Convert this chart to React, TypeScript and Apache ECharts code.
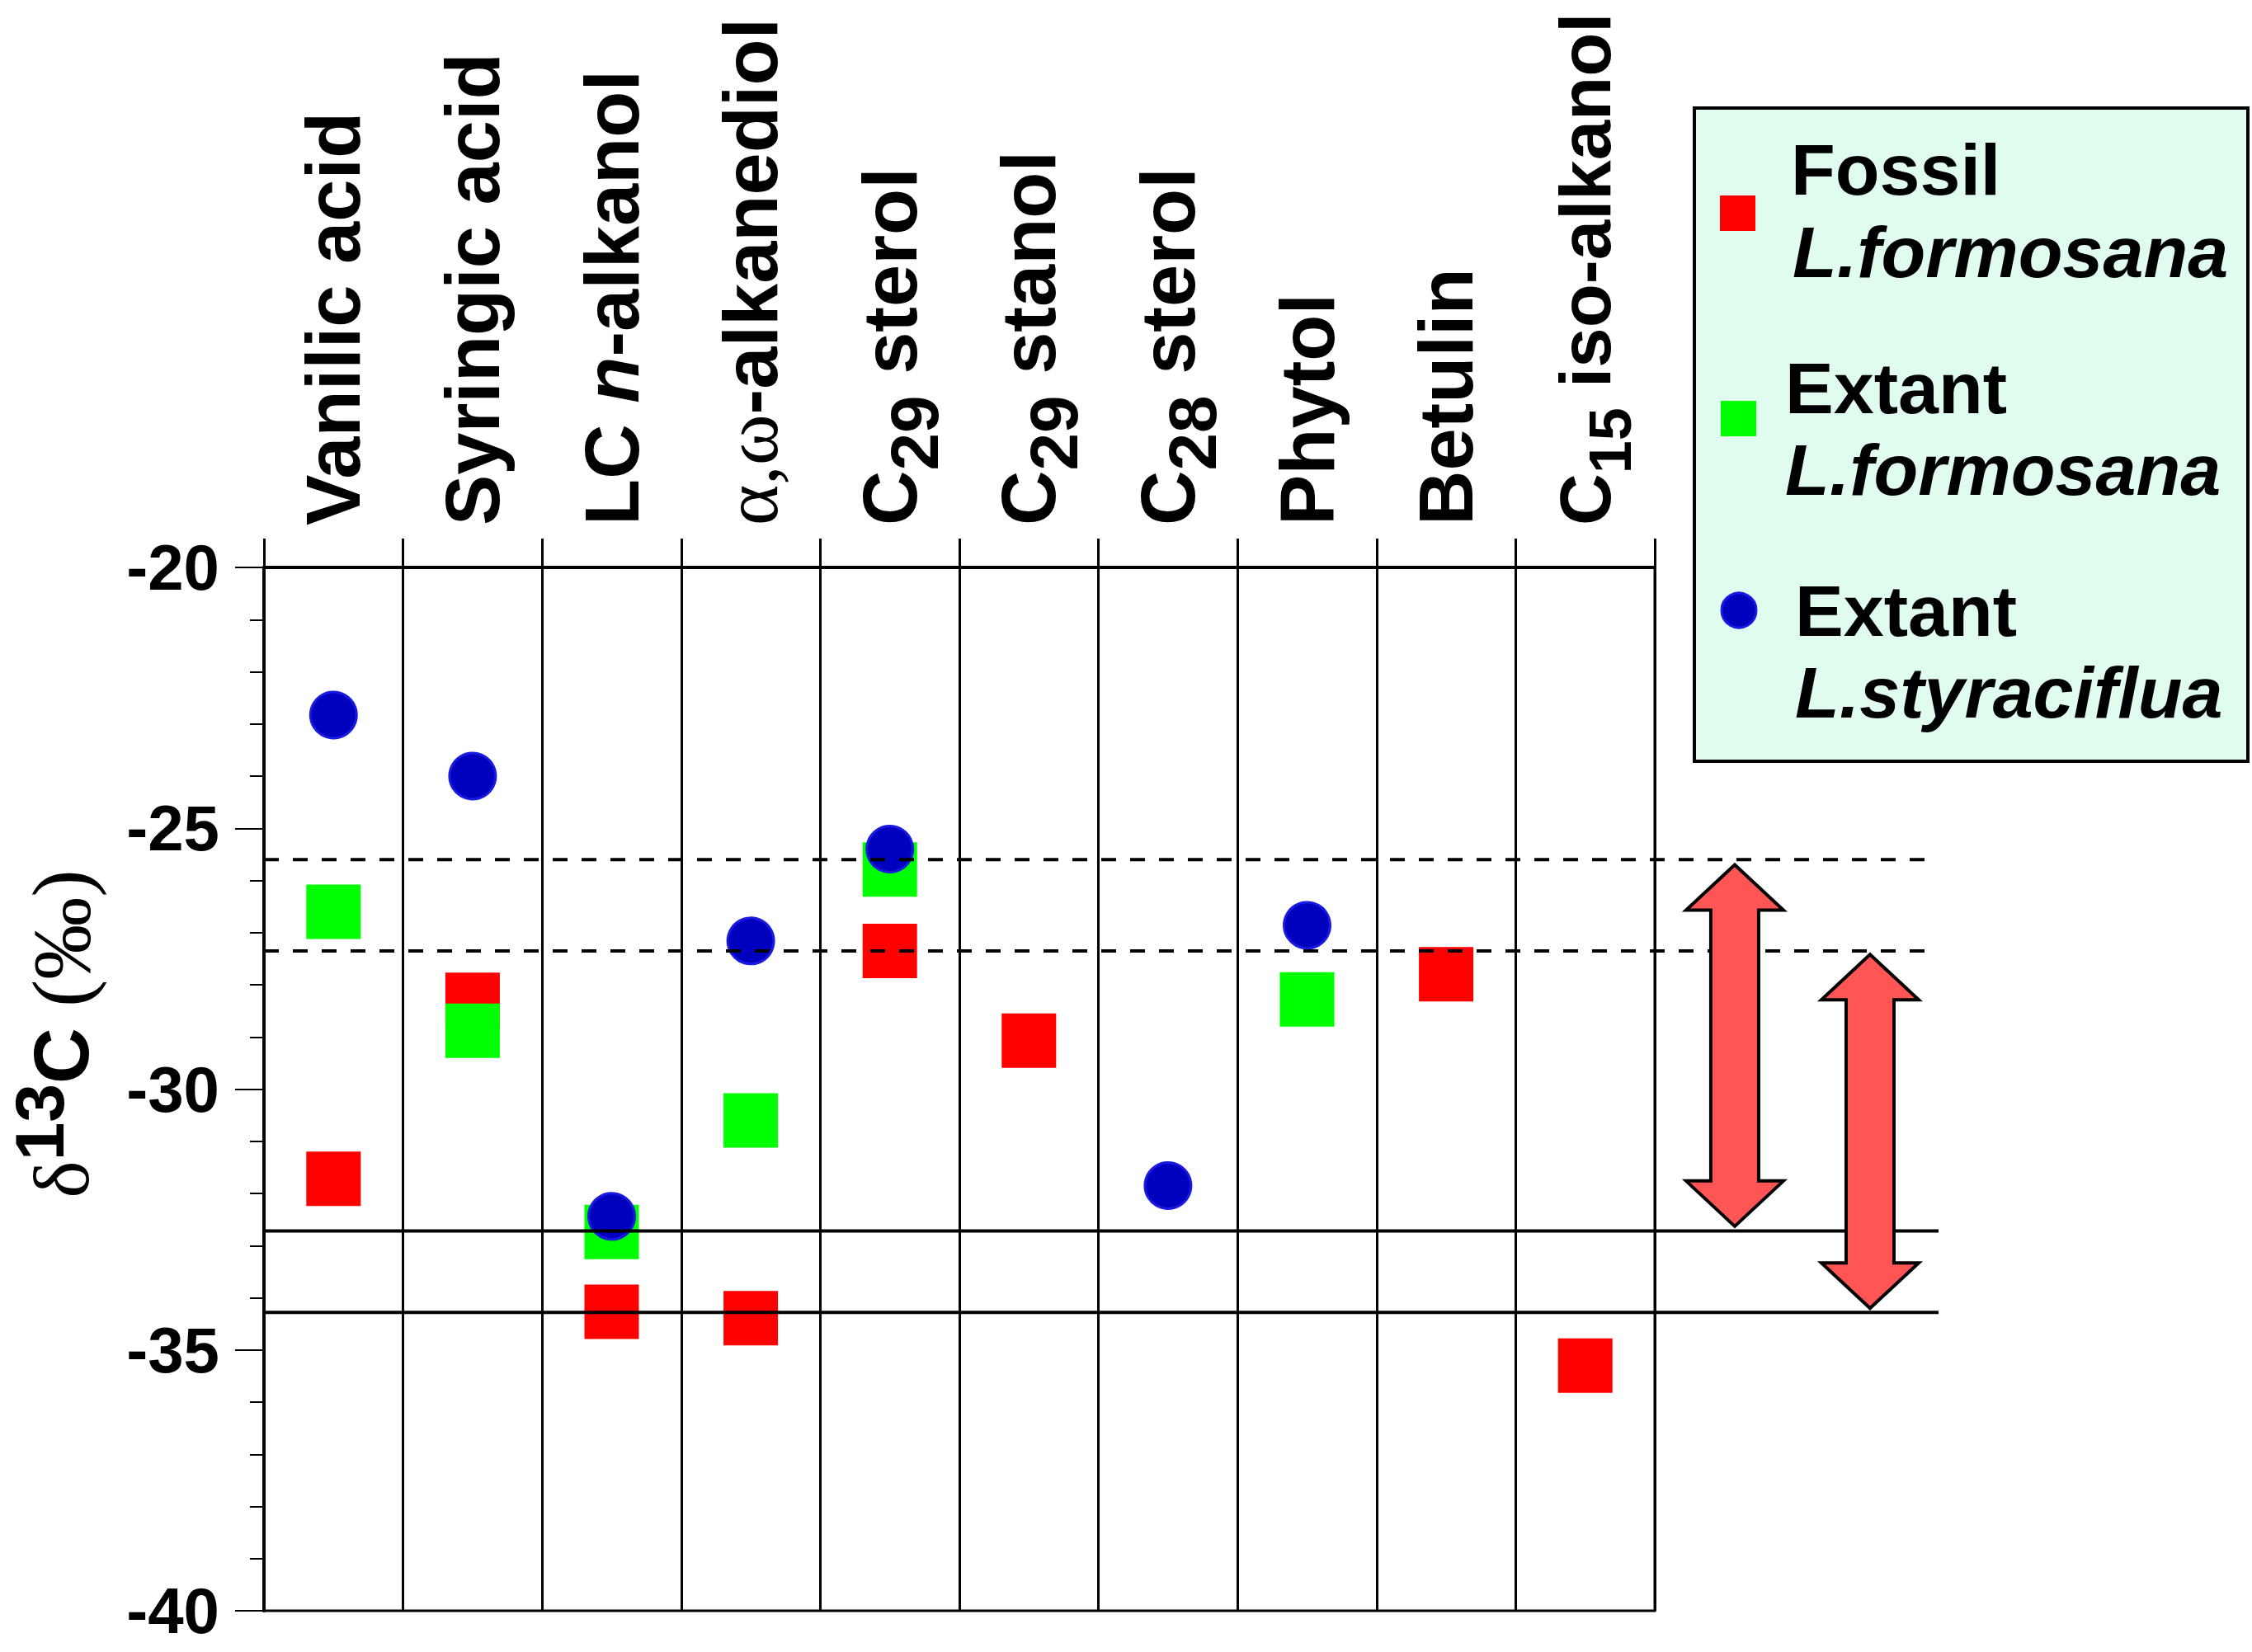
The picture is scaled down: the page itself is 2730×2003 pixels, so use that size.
import React, { useEffect, useRef } from 'react';
import * as echarts from 'echarts';

// ---- data ----
const categories = [
  'Vanilic acid',
  'Syringic acid',
  'LC n-alkanol',
  'α,ω-alkanediol',
  'C29 sterol',
  'C29 stanol',
  'C28 sterol',
  'Phytol',
  'Betulin',
  'C15 iso-alkanol',
];
const fossilFormosana: (number | null)[] = [-31.72, -28.29, -34.27, -34.39, -27.35, -29.07, null, null, -27.8, -35.3];
const extantFormosana: (number | null)[] = [-26.6, -28.88, -32.74, -30.6, -25.79, null, null, -28.28, null, null];
const extantStyraciflua: (number | null)[] = [-22.83, -24.0, -32.44, -27.16, -25.4, null, -31.85, -26.86, null, null];
const seriesNames = ['Fossil L.formosana', 'Extant L.formosana', 'Extant L.styraciflua'];
const yMin = -40;
const yMax = -20;
const yInterval = 5;
const dashedLevels = [-25.6, -27.35];
const solidLevels = [-32.72, -34.28];
const arrowRanges = [
  [-25.7, -32.63],
  [-27.42, -34.2],
];
const arrowColumns = [0.8783, 0.9591]; // position along the overlay axis (0..1)

const SANS = 'Liberation Sans';
const SERIF = 'Liberation Serif';

function catRich(name: string): string {
  if (name.startsWith('α,ω')) return '{g|α,ω}{b|' + name.slice(3) + '}';
  const m = name.match(/^C(\d+) (.*)$/);
  if (m) {
    const long = name.length > 12;
    const b = long ? 'bs' : 'b';
    const s = long ? 'subs' : 'sub';
    return '{' + b + '|C}{' + s + '|' + m[1] + '}{' + b + '| ' + m[2] + '}';
  }
  const n = name.match(/^(.*) n-(.*)$/);
  if (n) return '{b|' + n[1] + ' }{i|n}{b|-' + n[2] + '}';
  return '{b|' + name + '}';
}

function toPoints(values: (number | null)[]) {
  return values
    .map((v, i) => [categories[i], v])
    .filter((d) => d[1] !== null);
}

function arrowPolygon(cx: number, ty: number, by: number) {
  const hw = 59;
  const sw = 29;
  const hl = 55;
  return [
    [cx, ty],
    [cx + hw, ty + hl],
    [cx + sw, ty + hl],
    [cx + sw, by - hl],
    [cx + hw, by - hl],
    [cx, by],
    [cx - hw, by - hl],
    [cx - sw, by - hl],
    [cx - sw, ty + hl],
    [cx - hw, ty + hl],
  ];
}

function buildOption(): any {
  const refSeries: any[] = [];
  dashedLevels.forEach((v) => {
    refSeries.push({
      type: 'line',
      xAxisIndex: 1,
      yAxisIndex: 1,
      data: [
        [0, v],
        [1, v],
      ],
      symbol: 'none',
      silent: true,
      z: 5,
      lineStyle: { color: '#000', width: 4, type: [18, 17] },
    });
  });
  solidLevels.forEach((v) => {
    refSeries.push({
      type: 'line',
      xAxisIndex: 1,
      yAxisIndex: 1,
      data: [
        [0, v],
        [1, v],
      ],
      symbol: 'none',
      silent: true,
      z: 5,
      lineStyle: { color: '#000', width: 4, type: 'solid' },
    });
  });

  const legendFont = { fontFamily: SANS, fontWeight: 'bold', fontSize: 88, fill: '#000' };

  return {
    animation: false,
    backgroundColor: '#ffffff',
    grid: [
      {
        left: 320, top: 688, width: 1686, height: 1265,
        show: true, borderColor: '#000', borderWidth: 3, backgroundColor: 'transparent',
        containLabel: false, outerBoundsMode: 'none',
      },
      { left: 320, top: 688, width: 2030, height: 1265, containLabel: false, outerBoundsMode: 'none' },
    ],
    xAxis: [
      {
        type: 'category',
        gridIndex: 0,
        position: 'top',
        data: categories,
        boundaryGap: true,
        axisLine: { show: true, lineStyle: { color: '#000', width: 4 } },
        axisTick: { show: true, interval: 0, length: 35, inside: false, lineStyle: { color: '#000', width: 3 } },
        splitLine: { show: true, interval: 0, lineStyle: { color: '#000', width: 3 } },
        axisLabel: {
          interval: 0,
          rotate: -90,
          margin: 51,
          hideOverlap: false,
          formatter: (v: string) => catRich(v),
          rich: {
            b: { fontFamily: SANS, fontWeight: 'bold', fontSize: 92, lineHeight: 100, color: '#000' },
            bs: { fontFamily: SANS, fontWeight: 'bold', fontSize: 87, lineHeight: 100, color: '#000' },
            i: { fontFamily: SANS, fontWeight: 'bold', fontStyle: 'italic', fontSize: 92, lineHeight: 100, color: '#000' },
            g: { fontFamily: SERIF, fontWeight: 'normal', fontSize: 94, lineHeight: 100, color: '#000' },
            sub: { fontFamily: SANS, fontWeight: 'bold', fontSize: 82, lineHeight: 100, padding: [60, 0, 0, 0], color: '#000' },
            subs: { fontFamily: SANS, fontWeight: 'bold', fontSize: 72, lineHeight: 100, padding: [60, 0, 0, 0], color: '#000' },
          },
        },
      },
      { type: 'value', gridIndex: 1, min: 0, max: 1, show: false },
    ],
    yAxis: [
      {
        type: 'value',
        gridIndex: 0,
        min: yMin,
        max: yMax,
        interval: yInterval,
        axisLine: { show: true, lineStyle: { color: '#000', width: 4 } },
        axisTick: { show: true, length: 35, inside: false, lineStyle: { color: '#000', width: 2 } },
        minorTick: { show: true, splitNumber: 5, length: 17, lineStyle: { color: '#000', width: 2 } },
        splitLine: { show: false },
        axisLabel: {
          margin: 54,
          fontFamily: SANS,
          fontWeight: 'bold',
          fontSize: 78,
          color: '#000',
        },
        name: '{d|δ}{s|13}{c|C}{p| (‰)}',
        nameLocation: 'middle',
        nameRotate: 90,
        nameGap: 156,
        nameTextStyle: {
          padding: [0, 0, 0, 134],
          rich: {
            d: { fontFamily: SERIF, fontSize: 96, lineHeight: 100, color: '#000' },
            s: { fontFamily: SANS, fontWeight: 'bold', fontSize: 84, lineHeight: 70, padding: [0, 0, 52, 0], color: '#000' },
            c: { fontFamily: SANS, fontWeight: 'bold', fontSize: 94, lineHeight: 100, color: '#000' },
            p: { fontFamily: SERIF, fontSize: 100, lineHeight: 100, color: '#000' },
          },
        },
      },
      { type: 'value', gridIndex: 1, min: yMin, max: yMax, show: false },
    ],
    series: [
      {
        name: seriesNames[0],
        type: 'scatter',
        xAxisIndex: 0,
        yAxisIndex: 0,
        symbol: 'rect',
        symbolSize: 66,
        itemStyle: { color: '#FF0000', opacity: 1 },
        data: toPoints(fossilFormosana),
        z: 2,
      },
      {
        name: seriesNames[1],
        type: 'scatter',
        xAxisIndex: 0,
        yAxisIndex: 0,
        symbol: 'rect',
        symbolSize: 66,
        itemStyle: { color: '#00FF00', opacity: 1 },
        data: toPoints(extantFormosana),
        z: 3,
      },
      {
        name: seriesNames[2],
        type: 'scatter',
        xAxisIndex: 0,
        yAxisIndex: 0,
        symbol: 'circle',
        symbolSize: 56,
        itemStyle: { color: '#0000BE', borderColor: '#1A1AE0', borderWidth: 3, opacity: 1 },
        data: toPoints(extantStyraciflua),
        z: 4,
      },
      ...refSeries,
      {
        type: 'custom',
        xAxisIndex: 1,
        yAxisIndex: 1,
        silent: true,
        clip: false,
        z: 6,
        data: arrowRanges.map((r, i) => [arrowColumns[i], r[0], r[1]]),
        encode: { x: 0, y: [1, 2] },
        renderItem: (params: any, api: any) => {
          const top = api.coord([api.value(0), api.value(1)]);
          const bottom = api.coord([api.value(0), api.value(2)]);
          return {
            type: 'polygon',
            shape: { points: arrowPolygon(top[0], top[1], bottom[1]) },
            style: { fill: '#FF5555', stroke: '#000', lineWidth: 4, lineJoin: 'miter' },
          };
        },
      },
    ],
    graphic: [
      {
        type: 'rect',
        z: 10,
        shape: { x: 2054, y: 131, width: 671, height: 792 },
        style: { fill: '#E0FCEE', stroke: '#000', lineWidth: 4 },
      },
      { type: 'rect', z: 11, shape: { x: 2085, y: 237, width: 43, height: 43 }, style: { fill: '#FF0000' } },
      { type: 'rect', z: 11, shape: { x: 2086, y: 486, width: 43, height: 43 }, style: { fill: '#00FF00' } },
      { type: 'circle', z: 11, shape: { cx: 2108, cy: 740, r: 21 }, style: { fill: '#0000BE', stroke: '#1A1AE0', lineWidth: 3 } },
      { type: 'text', z: 11, x: 2171, y: 205, style: { ...legendFont, text: 'Fossil', align: 'left', verticalAlign: 'middle' } },
      { type: 'text', z: 11, x: 2173, y: 305, style: { ...legendFont, fontStyle: 'italic', text: 'L.formosana', align: 'left', verticalAlign: 'middle' } },
      { type: 'text', z: 11, x: 2164, y: 470, style: { ...legendFont, text: 'Extant', align: 'left', verticalAlign: 'middle' } },
      { type: 'text', z: 11, x: 2164, y: 569, style: { ...legendFont, fontStyle: 'italic', text: 'L.formosana', align: 'left', verticalAlign: 'middle' } },
      { type: 'text', z: 11, x: 2176, y: 740, style: { ...legendFont, text: 'Extant', align: 'left', verticalAlign: 'middle' } },
      { type: 'text', z: 11, x: 2176, y: 839, style: { ...legendFont, fontStyle: 'italic', text: 'L.styraciflua', align: 'left', verticalAlign: 'middle' } },
    ],
  };
}

export default function App() {
  const ref = useRef<HTMLDivElement>(null);
  useEffect(() => {
    if (!ref.current) return;
    const chart = echarts.init(ref.current, null, { renderer: 'svg' });
    chart.setOption(buildOption());
    return () => {
      chart.dispose();
    };
  }, []);
  return (
    <div
      ref={ref}
      style={{ position: 'fixed', left: 0, top: 0, width: 2730, height: 2003, background: '#ffffff' }}
    />
  );
}
